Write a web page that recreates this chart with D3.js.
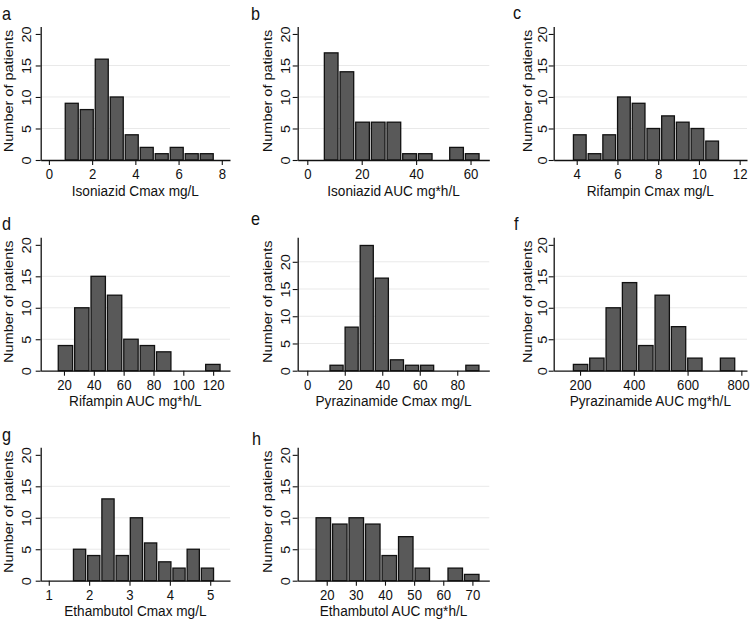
<!DOCTYPE html>
<html><head><meta charset="utf-8">
<script src="https://cdn.jsdelivr.net/npm/d3@7"></script>
<style>
body{margin:0;background:#fff;}
svg{display:block;}
text{font-family:"Liberation Sans",Arial,sans-serif;fill:#111;}
</style></head>
<body><svg id="c" width="750" height="622"></svg>
<script>
// ---------- DATA ----------
const panelLetters = ["a","b","c","d","e","f","g","h"];
const xTitles = ["Isoniazid Cmax mg/L","Isoniazid AUC mg*h/L","Rifampin Cmax mg/L","Rifampin AUC mg*h/L",
                 "Pyrazinamide Cmax mg/L","Pyrazinamide AUC mg*h/L","Ethambutol Cmax mg/L","Ethambutol AUC mg*h/L"];
const yTitle = "Number of patients";

const countsA = [9,8,16,10,4,2,1,2,1,1];
const countsB = [17,14,6,6,6,1,1,0,2,1];
const countsC = [4,1,4,10,9,5,7,6,5,3];
const countsD = [4,10,15,12,5,4,3,0,0,1];
const countsE = [1,8,23,17,2,1,1,0,0,1];
const countsF = [1,2,10,14,4,12,7,2,0,2];
const countsG = [5,4,13,4,10,6,3,2,5,2];
const countsH = [10,9,10,9,4,7,2,0,2,1];

const binStart = [0.71, 5.9, 3.79, 15.5, 11.6, 171.5, 1.587, 16.0];
const binWidth = [0.694, 5.76, 0.722, 10.98, 8.05, 60.75, 0.352, 5.66];

const xTicksA = [0,2,4,6,8];
const xTicksB = [0,20,40,60];
const xTicksC = [4,6,8,10,12];
const xTicksD = [20,40,60,80,100,120];
const xTicksE = [0,20,40,60,80];
const xTicksF = [200,400,600,800];
const xTicksG = [1,2,3,4,5];
const xTicksH = [20,30,40,50,60,70];
const yTicks = [0,5,10,15,20];

const xDomains = [[-0.38,8.38],[-3.53,66.9],[2.87,12.36],[4.4,131.3],[-5.1,97.1],[102,821],[0.80,5.49],[10.04,75.8]];
const yTops = [21.2,21.2,21.2,21.2,24.5,21.2,21.2,21.2];

const counts = [countsA,countsB,countsC,countsD,countsE,countsF,countsG,countsH];
const xTicks = [xTicksA,xTicksB,xTicksC,xTicksD,xTicksE,xTicksF,xTicksG,xTicksH];

// ---------- LAYOUT ----------
const colLeft = [40.7, 297.7, 553.7];
const colRight = [230, 489.3, 747];
const rowBase = [160, 370.7, 580.7];
const plotTopPx = [26.4, 237.3, 447.3];
const yLabOff = [10, 8, 7.2];
const yTitleOff = [27.5, 25.5, 22];
const letterPos = [[2,20],[251,20],[513,18.5],[2,230],[251,225],[514,230],[2,441],[252,445]];
const SX = 0.94;   // horizontal squash of glyphs
const SR = 0.88;   // glyph height squash for rotated text
const FS = 14.5;   // titles
const FT = 14;     // tick labels

const svg = d3.select("#c");

counts.forEach((cnt, i) => {
  const col = i % 3, row = Math.floor(i / 3);
  const L = colLeft[col], R = colRight[col], B = rowBase[row], T = plotTopPx[row];
  const x = d3.scaleLinear().domain(xDomains[i]).range([L, R]);
  const y = d3.scaleLinear().domain([0, yTops[i]]).range([B, T]);
  const g = svg.append("g");

  g.selectAll("line.grid").data(yTicks.filter(v => v > 0 && v < yTops[i] - 1.5))
    .join("line").attr("class","grid")
    .attr("x1", L).attr("x2", R).attr("y1", d => y(d)).attr("y2", d => y(d))
    .attr("stroke", "#e9e9e9").attr("stroke-width", 1);

  const bins = cnt.map((c, k) => ({c, x0: binStart[i] + k * binWidth[i], x1: binStart[i] + (k + 1) * binWidth[i]}));
  g.selectAll("rect.bar").data(bins.filter(b => b.c > 0)).join("rect").attr("class","bar")
    .attr("x", b => x(b.x0) + 1).attr("width", b => x(b.x1) - x(b.x0) - 2)
    .attr("y", b => y(b.c)).attr("height", b => B - y(b.c))
    .attr("fill", "#595959").attr("stroke", "#111").attr("stroke-width", 1.3);

  const xa = g.append("g").attr("transform", `translate(0,${B})`)
    .call(d3.axisBottom(x).tickValues(xTicks[i]).tickSize(5).tickSizeOuter(0).tickFormat(d3.format("d")));
  xa.select(".domain").attr("stroke", "#111").attr("stroke-width", 1.3);
  xa.selectAll(".tick line").attr("stroke", "#111").attr("stroke-width", 1.1);
  xa.selectAll(".tick").each(function(d) {
    const t = d3.select(this).select("text");
    const px = x(d);
    const w = String(d).length * FT * 0.556 * SX;
    let shift = 0;
    if (px + w / 2 > 749) shift = 749 - (px + w / 2);
    t.attr("y", 0).attr("dy", 0)
      .attr("transform", `translate(${shift},19.3) scale(${SX},1)`)
      .style("font-size", FT + "px").style("font-family", "Liberation Sans, Arial, sans-serif").attr("fill", "#111");
  });

  const ya = g.append("g").attr("transform", `translate(${L},0)`)
    .call(d3.axisLeft(y).tickValues(yTicks).tickSize(5).tickSizeOuter(0).tickFormat(d3.format("d")));
  ya.select(".domain").attr("stroke", "#111").attr("stroke-width", 1.3);
  ya.selectAll(".tick line").attr("stroke", "#111").attr("stroke-width", 1.1);
  ya.selectAll(".tick text").attr("x", 0).attr("dy", 0).attr("text-anchor", "middle")
    .attr("transform", `translate(${-yLabOff[col]},0) rotate(-90) scale(1,${SR})`)
    .style("font-size", FS + "px").style("font-family", "Liberation Sans, Arial, sans-serif").attr("fill", "#111");

  g.append("text").attr("text-anchor", "middle")
    .attr("transform", `translate(${(L + R) / 2},${B + 35.6}) scale(${SX},1)`)
    .style("font-size", FS + "px").text(xTitles[i]);

  g.append("text").attr("text-anchor", "middle")
    .attr("transform", `translate(${L - yTitleOff[col]},${B - 69}) rotate(-90) scale(1,${SR})`)
    .style("font-size", FS + "px").text(yTitle);

  g.append("text")
    .attr("transform", `translate(${letterPos[i][0]},${letterPos[i][1]}) scale(0.9,1)`)
    .style("font-size", "18px").text(panelLetters[i]);
});
</script></body></html>
